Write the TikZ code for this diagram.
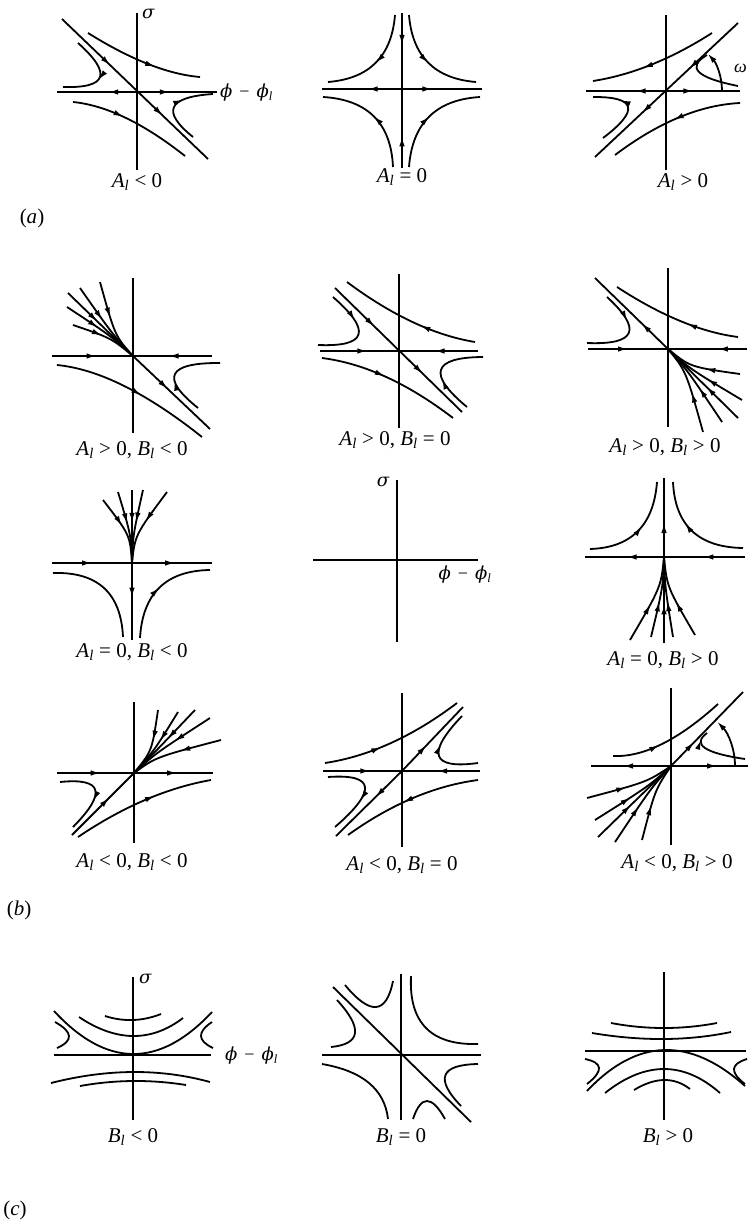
\documentclass[tikz,border=0pt]{standalone}
\usepackage{fontspec}
\setmainfont{Liberation Serif}
\newfontfamily\grk{DejaVu Serif}
\usetikzlibrary{arrows.meta,decorations.markings,calc}
\newcommand{\Al}{\textit{A}\textsubscript{\textit{l}}}
\newcommand{\Bl}{\textit{B}\textsubscript{\textit{l}}}
\newcommand{\sig}{{\grk\itshape σ}}
\newcommand{\phil}{{\grk\itshape ϕ}\hspace{7pt}−\hspace{7pt}{\grk\itshape ϕ}\textsubscript{\textit{l}}}
\tikzset{
  crv/.style={line width=1.8pt},
  ax/.style={line width=1.7pt},
  arr/.style={postaction={decorate,decoration={markings,mark=at position #1 with {\arrow{Latex[length=10pt,width=5.5pt]}}}}},
  lbl/.style={font=\fontsize{21}{24}\selectfont, inner sep=0pt},
  glbl/.style={font=\fontsize{18}{21}\selectfont, inner sep=0pt},
  tip/.style={-{Latex[length=10pt,width=5.5pt]}},
  q/.style n args={3}{insert path={(#1) .. controls ($(#1)!0.6667!(#2)$) and ($(#3)!0.6667!(#2)$) .. (#3)}}
}
\begin{document}
\begin{tikzpicture}[x=1pt,y=-1pt]
\useasboundingbox (0,0) rectangle (749,1228);
% ---------------- (a) ----------------
\begin{scope}[shift={(137,92)}]
\draw[ax] (0,-79) -- (0,78);
\draw[ax,arr=0.36] (0,0) -- (-80,0);
\draw[ax,arr=0.41] (0,0) -- (80,0);
\draw[crv,arr=0.33,arr=0.69] (-75,-73) -- (71,67);
\draw[crv,arr=0.62,q={-49,-59}{15,-19}{63,-15}];
\draw[crv,arr=0.42,q={-64,10}{-14,15}{48,64}];
\draw[crv,arr=0.55,q={-59,-49}{-7.5,-3}{-74,-5}];
\draw[crv,arr=0.62,q={56,45}{8,6.5}{76,2}];
\node[glbl,anchor=west] (sa1) at (5,-78) {\sig};
\node[glbl,anchor=west] (pa1) at (83,1) {\phil};
\node[lbl] (la1) at (0,90) {\Al{} < 0};
\end{scope}
\begin{scope}[shift={(402,89)}]
\draw[ax,arr=0.42] (0,-76) -- (0,0);
\draw[ax,arr=0.4] (0,79) -- (0,0);
\draw[ax,arr=0.43] (0,0) -- (-80,0);
\draw[ax,arr=0.38] (0,0) -- (80,0);
\draw[crv,arr=0.5,q={-7,-74}{-12,-12}{-74,-7}];
\draw[crv,arr=0.5,q={7,-74}{12,-12}{74,-7}];
\draw[crv,arr=0.5,q={-9,78}{-12,12}{-79,8}];
\draw[crv,arr=0.5,q={7,78}{12,12}{78,8}];
\node[lbl] (la2) at (0,88) {\Al{} = 0};
\end{scope}
\begin{scope}[shift={(666,91)}]
\draw[ax] (0,-76) -- (0,79);
\draw[ax,arr=0.38] (0,0) -- (-80,0);
\draw[ax,arr=0.37] (0,0) -- (74,0);
\draw[crv,arr=0.34,arr=0.67] (72,-68) -- (-71,66);
\draw[crv,arr=0.6,q={46,-58}{-15,-19}{-73,-10}];
\draw[crv,arr=0.5,q={74,12}{14,15}{-51,64}];
\draw[crv,arr=0.65,q={-63,47}{-8,5.5}{-73,6}];
\draw[crv,q={41,-36}{9.5,-17.5}{72,-5}];
\draw[crv,tip] (56,0) arc[start angle=0,end angle=-42,radius=56];
\node[glbl,anchor=west] (wa3) at (68,-23) {\textit{ω}};
\node[lbl] (la3) at (17,91) {\Al{} > 0};
\end{scope}
\node[lbl] (lab-a) at (32,218) {(\textit{a})};
% ---------------- (b) row 1 ----------------
\begin{scope}[shift={(133,356)}]
\draw[ax] (0,-78) -- (0,77);
\draw[ax,arr=0.55] (-81,0) -- (0,0);
\draw[ax,arr=0.55] (79,0) -- (0,0);
\draw[crv,arr=0.45] (-65,-63) -- (0,0);
\draw[crv,arr=0.45] (0,0) -- (77,73);
\draw[crv,arr=0.45] (-33,-74) .. controls (-18,-20) .. (0,0);
\draw[crv,arr=0.45] (-53,-68) .. controls (-20,-21) .. (0,0);
\draw[crv,arr=0.45] (-66,-49) .. controls (-22,-20) .. (0,0);
\draw[crv,arr=0.45] (-60,-31) .. controls (-22,-18) .. (0,0);
\draw[crv,arr=0.55,q={-76,9}{-14,15}{69,81}];
\draw[crv,arr=0.4,q={65,52}{8,6.5}{87,7}];
\node[lbl] (lb1) at (-1,94) {\Al{} > 0, \Bl{} < 0};
\end{scope}
\begin{scope}[shift={(399,351)}]
\draw[ax] (0,-77) -- (0,77);
\draw[ax,arr=0.6] (-79,0) -- (0,0);
\draw[ax,arr=0.55] (79,0) -- (0,0);
\draw[crv,arr=0.31,arr=0.69] (-64,-63) -- (63,61);
\draw[crv,arr=0.4,q={76,-9}{15,-19}{-52,-69}];
\draw[crv,arr=0.45,q={-77,7}{-14,15}{54,67}];
\draw[crv,arr=0.35,q={-66,-54}{-7.5,-3}{-81,-6}];
\draw[crv,arr=0.4,q={68,56}{8,6.5}{84,6}];
\node[lbl] (lb2) at (-4,89) {\Al{} > 0, \Bl{} = 0};
\end{scope}
\begin{scope}[shift={(668,349)}]
\draw[ax] (0,-81) -- (0,78);
\draw[ax,arr=0.5] (-80,0) -- (0,0);
\draw[ax,arr=0.37] (79,0) -- (0,0);
\draw[crv,arr=0.36] (0,0) -- (-73,-71);
\draw[crv,arr=0.4,q={70,-12}{15,-19}{-51,-62}];
\draw[crv,arr=0.35,q={-61,-52}{-7.5,-3}{-81,-6}];
\draw[crv,arr=0.45] (72,25) .. controls (22,18) .. (0,0);
\draw[crv,arr=0.45] (74,51) .. controls (22,20) .. (0,0);
\draw[crv,arr=0.45] (70,69) -- (0,0);
\draw[crv,arr=0.45] (54,73) .. controls (20,22) .. (0,0);
\draw[crv,arr=0.45] (35,83) .. controls (18,22) .. (0,0);
\node[lbl] (lb3) at (-3,98) {\Al{} > 0, \Bl{} > 0};
\end{scope}
% ---------------- (b) row 2 ----------------
\begin{scope}[shift={(132,563)}]
\draw[ax,arr=0.25,arr=0.77] (-80,0) -- (80,0);
\draw[ax,arr=0.45] (0,0) -- (0,77);
\draw[crv,arr=0.45] (0,-73) -- (0,0);
\draw[crv,arr=0.45] (-29,-63) .. controls (-2,-28) .. (0,0);
\draw[crv,arr=0.45] (-14,-71) .. controls (-1,-28) .. (0,0);
\draw[crv,arr=0.45] (11,-73) .. controls (1,-28) .. (0,0);
\draw[crv,arr=0.45] (35,-71) .. controls (3,-28) .. (0,0);
\draw[crv,q={-79,10}{-12,8}{-9,74}];
\draw[crv,arr=0.5,q={8,75}{12,8}{78,7}];
\node[lbl] (lb4) at (0,89) {\Al{} = 0, \Bl{} < 0};
\end{scope}
\begin{scope}[shift={(397,560)}]
\draw[ax] (0,-80) -- (0,82);
\draw[ax] (-84,0) -- (81,0);
\node[glbl] (sb5) at (-14,-78) {\sig};
\node[glbl] (pb5) at (68,15) {\phil};
\end{scope}
\begin{scope}[shift={(664,557)}]
\draw[ax,arr=0.26,arr=0.74] (81,0) -- (-79,0);
\draw[ax,arr=0.43] (0,0) -- (0,-79);
\draw[crv,arr=0.45] (0,86) -- (0,0);
\draw[crv,arr=0.45] (-34,83) .. controls (-3,30) .. (0,0);
\draw[crv,arr=0.45] (-13,80) .. controls (-1,30) .. (0,0);
\draw[crv,arr=0.45] (9,80) .. controls (1,30) .. (0,0);
\draw[crv,arr=0.45] (31,78) .. controls (3,30) .. (0,0);
\draw[crv,arr=0.55,q={-74,-8}{-12,-10}{-7,-75}];
\draw[crv,arr=0.6,q={79,-9}{12,-10}{9,-75}];
\node[lbl] (lb6) at (-1,103) {\Al{} = 0, \Bl{} > 0};
\end{scope}
% ---------------- (b) row 3 ----------------
\begin{scope}[shift={(134,773)}]
\draw[ax] (0,-71) -- (0,70);
\draw[ax,arr=0.28,arr=0.77] (-77,0) -- (79,0);
\draw[crv,arr=0.6] (-62,62) -- (0,0);
\draw[crv,arr=0.45] (24,-63) .. controls (18,-22) .. (0,0);
\draw[crv,arr=0.45] (44,-61) .. controls (20,-22) .. (0,0);
\draw[crv,arr=0.45] (61,-63) .. controls (22,-22) .. (0,0);
\draw[crv,arr=0.45] (76,-55) .. controls (22,-20) .. (0,0);
\draw[crv,arr=0.45] (87,-33) .. controls (22,-16) .. (0,0);
\draw[crv,arr=0.6,q={-74,9}{-10,2.5}{-61,54}];
\draw[crv,arr=0.6,q={-56,64}{11.5,18.5}{77,7}];
\node[lbl] (lb7) at (-2,89) {\Al{} < 0, \Bl{} < 0};
\end{scope}
\begin{scope}[shift={(402,771)}]
\draw[ax] (0,-78) -- (0,76);
\draw[ax,arr=0.6] (-79,0) -- (0,0);
\draw[ax,arr=0.55] (78,0) -- (0,0);
\draw[crv,arr=0.4] (0,0) -- (61,-64);
\draw[crv,arr=0.4] (0,0) -- (-66,65);
\draw[crv,arr=0.4,q={-77,-8}{-11,-18}{55,-68}];
\draw[crv,arr=0.55,q={76,9}{11,17.5}{-54,64}];
\draw[crv,arr=0.6,q={-74,6}{-3.5,1}{-67,56}];
\draw[crv,arr=0.6,q={76,-8}{6,1.5}{60,-55}];
\node[lbl] (lb8) at (0,94) {\Al{} < 0, \Bl{} = 0};
\end{scope}
\begin{scope}[shift={(671,766)}]
\draw[ax] (0,-78) -- (0,79);
\draw[ax,arr=0.6] (0,0) -- (-80,0);
\draw[ax,arr=0.6] (0,0) -- (77,0);
\draw[crv,arr=0.32] (0,0) -- (72,-74);
\draw[crv,arr=0.4,q={-58,-10}{-12.5,-8}{47,-62}];
\draw[crv,arr=0.85,q={74,-7}{13,-16}{36,-33}];
\draw[crv,tip] (64,0) arc[start angle=0,end angle=-44,radius=64];
\draw[crv,arr=0.45] (-84,32) .. controls (-24,16) .. (0,0);
\draw[crv,arr=0.45] (-76,54) .. controls (-22,20) .. (0,0);
\draw[crv,arr=0.45] (-73,71) -- (0,0);
\draw[crv,arr=0.45] (-56,76) .. controls (-20,22) .. (0,0);
\draw[crv,arr=0.45] (-29,74) .. controls (-16,24) .. (0,0);
\node[lbl] (lb9) at (6,97) {\Al{} < 0, \Bl{} > 0};
\end{scope}
\node[lbl] (lab-b) at (19,910) {(\textit{b})};
% ---------------- (c) ----------------
\begin{scope}[shift={(133,1055)}]
\draw[ax] (0,-78) -- (0,65);
\draw[ax] (-79,0) -- (78,0);
\draw[crv,q={-28,-39}{0,-30}{28,-41}];
\draw[crv,q={-54,-38}{2,-0.5}{50,-37}];
\draw[crv,q={-79,-44}{0,41.5}{79,-43}];
\draw[crv,q={-78,-33}{-51,-18}{-76,-7}];
\draw[crv,q={79,-33}{56.5,-18}{80,-7}];
\draw[crv,q={-82,28}{2.5,6.5}{77,27}];
\draw[crv,q={-53,31}{0,21.5}{53,30}];
\node[glbl,anchor=west] (sc1) at (6,-76) {\sig};
\node[glbl,anchor=west] (pc1) at (92,1) {\phil};
\node[lbl] (lc1) at (0,82) {\Bl{} < 0};
\end{scope}
\begin{scope}[shift={(401,1055)}]
\draw[ax] (0,-81) -- (0,65);
\draw[ax] (-79,0) -- (80,0);
\draw[crv] (-68,-68) -- (70,67);
\draw[crv,q={-56,-70}{-18,-24}{-8,-74}];
\draw[crv,q={-64,-55}{-25,-12.5}{-70,-8}];
\draw[crv,q={10,-79}{6.5,-9}{77,-11}];
\draw[crv,q={-79,9}{-18,19.5}{-13,64}];
\draw[crv,q={77,9}{20.5,10}{60,51}];
\draw[crv,q={12,64}{24,28}{44,64}];
\node[lbl] (lc2) at (0,82) {\Bl{} = 0};
\end{scope}
\begin{scope}[shift={(664,1051)}]
\draw[ax] (0,-79) -- (0,69);
\draw[ax] (-79,0) -- (82,0);
\draw[crv,q={-53,-28}{0,-18}{53,-28}];
\draw[crv,q={-72,-18}{2.5,-5.5}{67,-19}];
\draw[crv,q={-77,40}{-2,-39.5}{81,35}];
\draw[crv,q={-79,8}{-52,13.5}{-77,33}];
\draw[crv,q={83,8}{58,15.5}{81,33}];
\draw[crv,q={-59,42}{1.5,-6}{56,42}];
\draw[crv,q={-30,39}{2,19.5}{26,38}];
\node[lbl] (lc3) at (4,86) {\Bl{} > 0};
\end{scope}
\node[lbl] (lab-c) at (15,1210) {(\textit{c})};
\end{tikzpicture}
\end{document}
